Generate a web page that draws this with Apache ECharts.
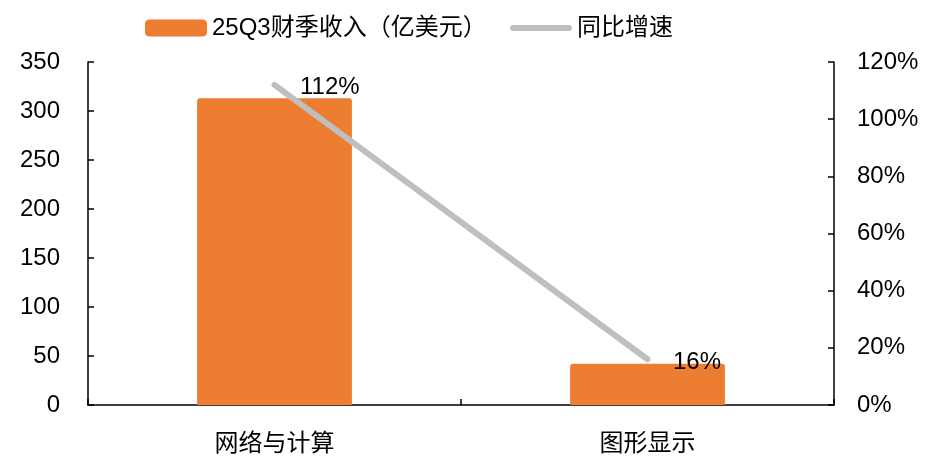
<!DOCTYPE html>
<html>
<head>
<meta charset="utf-8">
<script src="https://cdn.jsdelivr.net/npm/echarts@6/dist/echarts.min.js"></script>
<style>html,body{margin:0;padding:0;background:#fff;}#c{width:927px;height:462px;}</style>
</head>
<body>
<div id="c"></div>
<script>
const categories = ['网络与计算', '图形显示'];
const revenue = [313, 42];
const growth = [112, 16];
const leftTicks = {min: 0, max: 350, interval: 50};
const rightTicks = {min: 0, max: 120, interval: 20};
const barName = '25Q3财季收入（亿美元）';
const lineName = '同比增速';

const FONT = '"Liberation Sans", "Noto Sans CJK SC", sans-serif';
const chart = echarts.init(document.getElementById('c'));
const axisLine = {show: true, lineStyle: {color: '#000', width: 1.5}};
const tick = {show: true, inside: true, length: 6, lineStyle: {color: '#000', width: 1.5}};
chart.setOption({
  backgroundColor: '#fff',
  textStyle: {fontFamily: FONT, color: '#000'},
  legend: [
    {data: [barName], left: 145, top: 16, padding: 0, itemWidth: 62, itemHeight: 17, itemGap: 4,
     textStyle: {fontSize: 24, color: '#000', fontFamily: FONT}, icon: 'roundRect'},
    {data: [lineName], left: 510, top: 16, padding: 0, itemWidth: 62, itemHeight: 17, itemGap: 4,
     textStyle: {fontSize: 24, color: '#000', fontFamily: FONT},
     icon: 'path://M3,8 L59,8 A3,3 0 0 1 59,14 L3,14 A3,3 0 0 1 3,8 Z'}
  ],
  grid: {left: 88, right: 93, top: 62, bottom: 57, containLabel: false},
  xAxis: {
    type: 'category', data: categories,
    axisLine: axisLine,
    axisTick: tick,
    axisLabel: {fontSize: 24, color: '#000', margin: 27, fontFamily: FONT}
  },
  yAxis: [
    {type: 'value', min: leftTicks.min, max: leftTicks.max, interval: leftTicks.interval,
     axisLine: axisLine, axisTick: tick,
     axisLabel: {fontSize: 24, color: '#000', margin: 28, padding: [4, 0, 0, 0], fontFamily: FONT},
     splitLine: {show: false}},
    {type: 'value', min: rightTicks.min, max: rightTicks.max, interval: rightTicks.interval,
     position: 'right',
     axisLine: axisLine, axisTick: tick,
     axisLabel: {fontSize: 24, color: '#000', margin: 23, padding: [4, 0, 0, 0], formatter: '{value}%', fontFamily: FONT},
     splitLine: {show: false}}
  ],
  series: [
    {name: barName, type: 'bar', data: revenue, barWidth: '41.5%',
     itemStyle: {color: '#ED7D31', borderRadius: [3, 3, 0, 0]}},
    {name: lineName, type: 'line', yAxisIndex: 1, data: growth,
     symbol: 'circle', symbolSize: 1, showSymbol: true,
     itemStyle: {color: '#BFBFBF'},
     lineStyle: {color: '#BFBFBF', width: 6, cap: 'round'},
     label: {show: true, position: 'right', distance: 25, offset: [0, 3],
             formatter: '{c}%', fontSize: 24, color: '#000', fontFamily: FONT}}
  ],
  animation: false
});
</script>
</body>
</html>
